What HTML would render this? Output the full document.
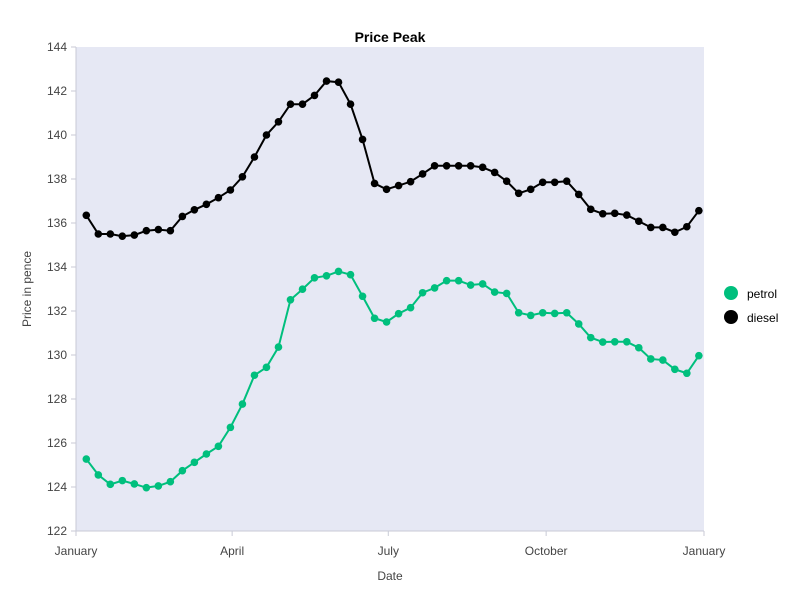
<!DOCTYPE html>
<html><head><meta charset="utf-8"><style>
body{margin:0;background:#fff;}
svg{font-family:"Liberation Sans",sans-serif;}
</style></head><body>
<svg id="chart" width="800" height="600"></svg>
<script>
const startDay = 6;
const stepDays = 7;
const petrol = [125.27,124.55,124.12,124.29,124.14,123.97,124.05,124.24,124.74,125.12,125.5,125.85,126.71,127.77,129.08,129.44,130.36,132.51,132.99,133.51,133.6,133.8,133.65,132.67,131.67,131.5,131.88,132.15,132.83,133.05,133.38,133.38,133.18,133.23,132.86,132.8,131.92,131.8,131.92,131.89,131.92,131.41,130.79,130.59,130.6,130.6,130.33,129.82,129.77,129.35,129.17,129.97];
const diesel = [136.35,135.5,135.5,135.4,135.45,135.65,135.7,135.65,136.3,136.6,136.85,137.15,137.5,138.1,139.0,140.0,140.6,141.4,141.4,141.8,142.45,142.4,141.4,139.8,137.8,137.53,137.70,137.88,138.23,138.60,138.60,138.60,138.60,138.53,138.30,137.90,137.35,137.53,137.85,137.85,137.90,137.30,136.62,136.42,136.44,136.36,136.08,135.80,135.80,135.58,135.83,136.56];
const yTicks = [122,124,126,128,130,132,134,136,138,140,142,144];
const xTickLabels = ["January","April","July","October","January"];
const xTickDays = [0,91,182,274,366];

const NS="http://www.w3.org/2000/svg";
const svg=document.getElementById('chart');
const L=76,R=704,T=47,B=531;
const x=d=>L+(d/366)*(R-L);
const y=v=>B-(v-122)/(144-122)*(B-T);
function el(tag,attrs,parent){const e=document.createElementNS(NS,tag);for(const k in attrs)e.setAttribute(k,attrs[k]);(parent||svg).appendChild(e);return e;}

const bg=el('rect',{x:L,y:T,width:R-L,height:B-T,fill:'#e6e8f4'});


el('line',{x1:L,y1:T,x2:L,y2:B,stroke:'#c8cad6','stroke-width':1});
el('line',{x1:L,y1:B,x2:R,y2:B,stroke:'#c8cad6','stroke-width':1});

yTicks.forEach(v=>{
  el('line',{x1:L-5,y1:y(v),x2:L,y2:y(v),stroke:'#c8cad6'});
  const t=el('text',{x:L-9,y:y(v)+4,'text-anchor':'end','font-size':12,fill:'#444'});
  t.textContent=v;
  
  
});
xTickDays.forEach((d,i)=>{
  el('line',{x1:x(d),y1:B,x2:x(d),y2:B+5,stroke:'#c8cad6'});
  const t=el('text',{x:x(d),y:B+24,'text-anchor':'middle','font-size':12,fill:'#444'});
  t.textContent=xTickLabels[i];
  
  
});

function series(vals,color,name){
  const g=el('g',{});
  
  
  const pts=vals.map((v,i)=>x(startDay+i*stepDays)+','+y(v)).join(' ');
  el('polyline',{points:pts,fill:'none',stroke:color,'stroke-width':2},g);
  vals.forEach((v,i)=>{
    const c=el('circle',{cx:x(startDay+i*stepDays),cy:y(v),r:3.8,fill:color},g);
    
    
  });
}
series(diesel,'#000','diesel');
series(petrol,'#00bf7d','petrol');
</script>
<svg width="800" height="600" style="position:absolute;left:0;top:0;font-family:'Liberation Sans',sans-serif">
<text x="390" y="42" text-anchor="middle" font-size="14" font-weight="bold" fill="#000">Price Peak</text>
<text x="390" y="580" text-anchor="middle" font-size="12" fill="#444">Date</text>
<text transform="translate(31,289) rotate(-90)" text-anchor="middle" font-size="12" fill="#444">Price in pence</text>
<g><circle cx="731" cy="293" r="7" fill="#00bf7d"/><text x="747" y="298" font-size="12" fill="#000">petrol</text></g>
<g><circle cx="731" cy="317" r="7" fill="#000"/><text x="747" y="322" font-size="12" fill="#000">diesel</text></g>
</svg>
</body></html>
